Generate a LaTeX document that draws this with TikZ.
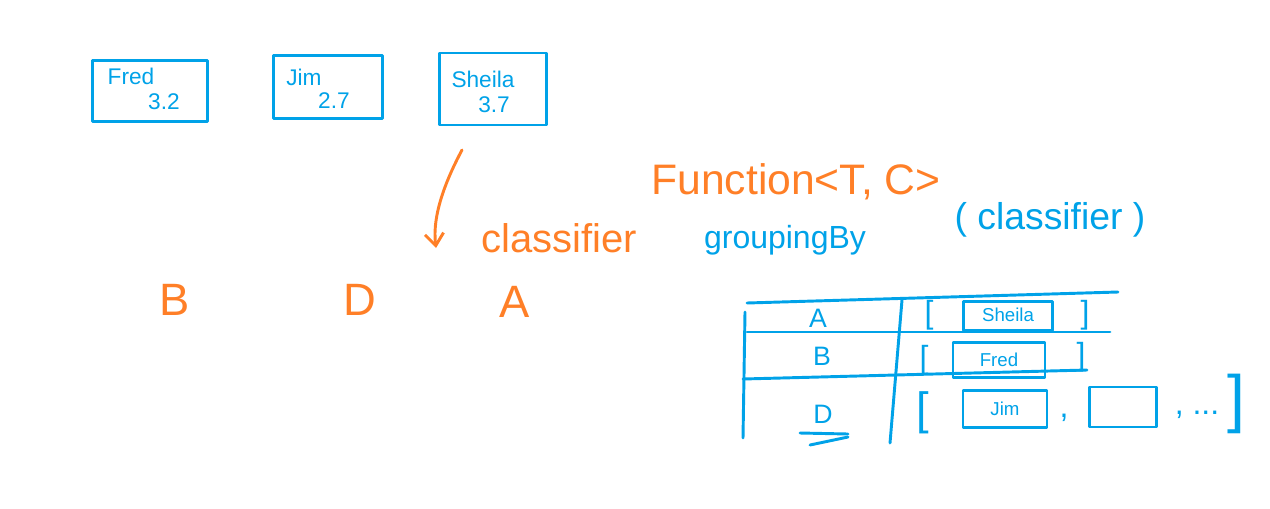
\documentclass[tikz,border=0pt]{standalone}
\usepackage{fontspec}
\setmainfont{Liberation Sans}
\usetikzlibrary{arrows.meta}
\definecolor{pblue}{RGB}{0,162,232}
\definecolor{porange}{RGB}{255,127,39}
\newcommand{\fsz}[1]{\fontsize{#1}{#1}\selectfont}
\begin{document}
\begin{tikzpicture}[x=0.75pt,y=-0.75pt,
  ink/.style={line width=2.2pt,line cap=round,line join=round},
  card/.style={draw=pblue,ink,inner sep=0pt},
  btxt/.style={text=pblue,inner sep=0pt,font=\fsz{17}},
  otxt/.style={text=porange,inner sep=0pt},
  bl/.style={text=pblue,inner sep=0pt},
  tline/.style={draw=pblue,ink}]
\useasboundingbox (0,0) rectangle (1270,508);
% student cards
\node[card,minimum width=86pt,minimum height=46pt] (fredbox) at (150,91) {};
\node[btxt] (fredname) at (131,76) {Fred};
\node[btxt] (fredgpa) at (164,102) {3.2};
\node[card,minimum width=82pt,minimum height=47pt] (jimbox) at (328,87) {};
\node[btxt] (jimname) at (304,77) {Jim};
\node[btxt] (jimgpa) at (334,101) {2.7};
\node[card,minimum width=80pt,minimum height=54pt] (sheilabox) at (493,89) {};
\node[btxt] (sheilaname) at (483,79) {Sheila};
\node[btxt] (sheilagpa) at (494,105) {3.7};
% classifier arrow
\coordinate (arrS) at (462,150);
\coordinate (arrE) at (436,248);
\draw[porange,ink,-{Straight Barb[length=9pt,width=14pt]}] (arrS) .. controls (446,180) and (432,215) .. (arrE);
\node[otxt,font=\fsz{30}] (classifier) at (559,238) {classifier};
\node[otxt,font=\fsz{32}] (function) at (796,182) {Function<T, C>};
\node[bl,font=\fsz{24}] (grouping) at (785,240) {groupingBy};
\node[bl,font=\fsz{28}] (arg) at (1050,220) {( classifier )};
% grades
\node[otxt,font=\fsz{34}] (gB) at (175,300) {B};
\node[otxt,font=\fsz{34}] (gD) at (360,300) {D};
\node[otxt,font=\fsz{34}] (gA) at (515,302) {A};
% table
\draw[tline] (747,303) -- (1118,292);
\draw[tline] (747,332) -- (1110,332);
\draw[tline] (743,379) -- (1087,370);
\draw[tline] (745,312) -- (743,438);
\draw[tline] (902,300) -- (890,443);
\node[bl,font=\fsz{20}] (rA) at (818,318) {A};
\node[bl,font=\fsz{20}] (rB) at (822,356) {B};
\node[bl,font=\fsz{20}] (rD) at (823,414) {D};
\draw[tline] (800,433) -- (848,434);
\draw[tline] (810,445) -- (848,437);
% row A
\node[bl,font=\fsz{24}] (lbA) at (929,315) {[};
\node[card,minimum width=67pt,minimum height=22pt] (sheilacell) at (1008,316) {};
\node[bl,font=\fsz{14}] (sheilat) at (1008,315) {Sheila};
\node[bl,font=\fsz{24}] (rbA) at (1085,315) {]};
% row B
\node[bl,font=\fsz{24}] (lbB) at (924,360) {[};
\node[card,minimum width=69pt,minimum height=26pt] (fredcell) at (999,360) {};
\node[bl,font=\fsz{14}] (fredt) at (999,360) {Fred};
\node[bl,font=\fsz{24}] (rbB) at (1081,357) {]};
% row D
\node[bl,font=\fsz{34}] (lbD) at (923,413) {[};
\node[card,minimum width=63pt,minimum height=28pt] (jimcell) at (1005,409) {};
\node[bl,font=\fsz{14}] (jimt) at (1005,409) {Jim};
\node[bl,font=\fsz{24}] (c1) at (1064,418) {,};
\node[card,minimum width=50pt,minimum height=30pt] (emptycell) at (1123,407) {};
\node[bl,font=\fsz{24}] (c2) at (1197,415) {, ...};
\node[bl,font=\fsz{48}] (rbD) at (1236,404) {]};
\end{tikzpicture}
\end{document}
